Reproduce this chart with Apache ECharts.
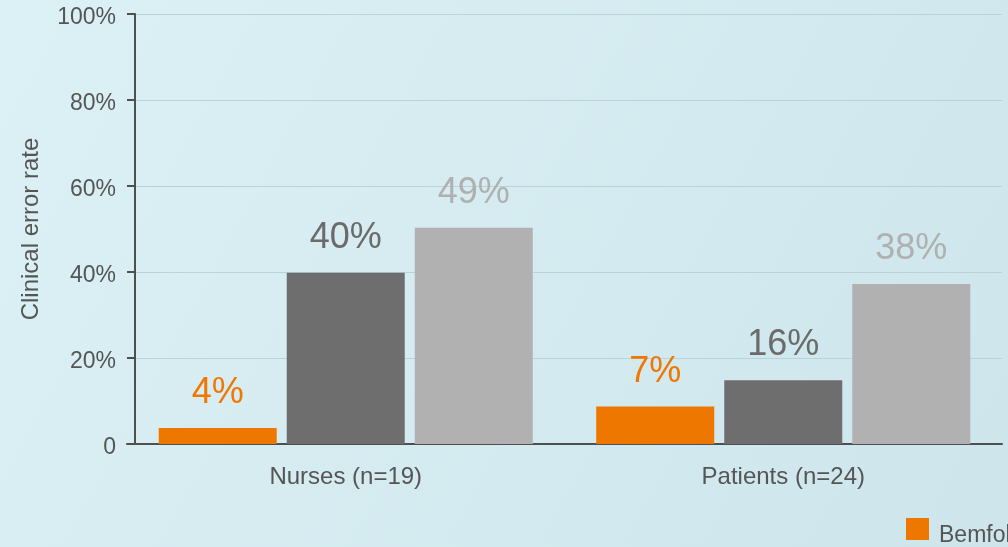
<!DOCTYPE html>
<html>
<head>
<meta charset="utf-8">
<script src="https://cdn.jsdelivr.net/npm/echarts@6/dist/echarts.min.js"></script>
<style>
html, body { margin: 0; padding: 0; }
#errorRate { width: 1008px; height: 547px; }
</style>
</head>
<body>
<div id="errorRate"></div>
<script>
// categories and values
var categories = ['Nurses (n=19)', 'Patients (n=24)'];
var seriesNames = ['Bemfola pen', 'Gonal-f pen', 'Other pen'];
var bemfolaValues = [3.7, 8.7];
var gonalValues = [39.8, 14.8];
var otherValues = [50.3, 37.2];
var bemfolaLabels = ['4%', '7%'];
var gonalLabels = ['40%', '16%'];
var otherLabels = ['49%', '38%'];
var yTicks = [0, 20, 40, 60, 80, 100];

var colors = ['#EE7700', '#6E6E6E', '#B1B1B1'];
var labelColors = ['#F07800', '#6B6B6B', '#B0B0B0'];

function makeSeries (name, data, labels, i) {
    return {
        name: name,
        type: 'bar',
        data: data,
        barWidth: 118, // 柱子宽度
        barGap: '8.5%',
        itemStyle: { color: colors[i] },
        label: {
            show: true,
            position: 'top',
            distance: 17,
            fontSize: 36,
            fontFamily: 'Liberation Sans, Arial',
            color: labelColors[i],
            formatter: function (p) { return labels[p.dataIndex]; }
        }
    };
}

var chart = echarts.init(document.getElementById('errorRate'));
var option = {
    backgroundColor: new echarts.graphic.LinearGradient(0, 0, 1, 1, [
        { offset: 0, color: '#DCF1F6' },
        { offset: 1, color: '#CDE5EB' }
    ]),
    animation: false,
    textStyle: { fontFamily: 'Liberation Sans, Arial' },
    legend: {
        data: seriesNames,
        left: 906,
        top: 518,
        padding: 0,
        itemWidth: 23,
        itemHeight: 22,
        itemGap: 30,
        icon: 'rect',
        formatter: function (name) { return '{t|' + name + '}'; },
        textStyle: {
            color: '#555555',
            fontSize: 23,
            rich: { t: { color: '#555555', fontSize: 23, padding: [14, 0, 0, 5] } }
        }
    },
    grid: {
        left: 127,
        top: 14,
        bottom: 103,
        width: 875
    },
    xAxis: {
        type: 'category',
        data: categories,
        axisLine: { lineStyle: { color: '#4F4F4F', width: 2 } },
        axisTick: { show: false },
        axisLabel: { color: '#555555', fontSize: 24, margin: 21 }
    },
    yAxis: {
        type: 'value',
        min: 0,
        max: 100,
        interval: 20,
        offset: -8,
        name: 'Clinical error rate',
        nameLocation: 'middle',
        nameGap: 92,
        nameTextStyle: { color: '#555555', fontSize: 24 },
        axisLine: { show: true, lineStyle: { color: '#4F4F4F', width: 2 } },
        axisTick: { show: true, length: 8, lineStyle: { color: '#4F4F4F', width: 2 } },
        axisLabel: {
            color: '#555555',
            fontSize: 23,
            margin: 19,
            formatter: function (v) {
                return '{t|' + (yTicks.indexOf(v) === 0 ? '0' : v + '%') + '}';
            },
            rich: { t: { color: '#555555', fontSize: 23, padding: [7, 0, 0, 0] } }
        },
        splitLine: { lineStyle: { color: '#B9D3DA', width: 1 } }
    },
    series: [
        makeSeries(seriesNames[0], bemfolaValues, bemfolaLabels, 0),
        makeSeries(seriesNames[1], gonalValues, gonalLabels, 1),
        makeSeries(seriesNames[2], otherValues, otherLabels, 2)
    ]
};
chart.setOption(option);
</script>
</body>
</html>
